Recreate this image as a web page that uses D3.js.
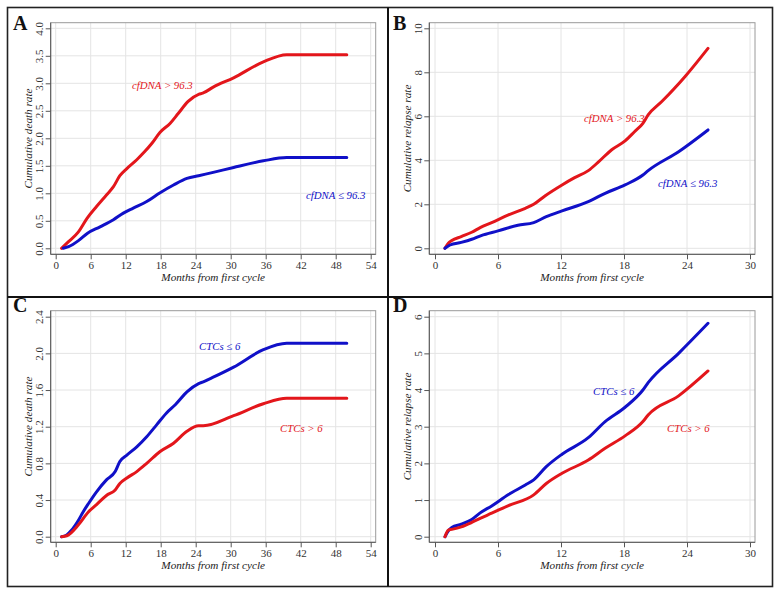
<!DOCTYPE html>
<html>
<head>
<meta charset="utf-8">
<script src="https://cdn.jsdelivr.net/npm/d3@7"></script>
<style>
  html, body { margin: 0; padding: 0; background: #fff; }
  svg { display: block; }
  text { font-family: "Liberation Serif", "DejaVu Serif", serif; }
</style>
</head>
<body>
<svg id="chart" width="775" height="593"></svg>
<script>
// ---------- DATA ----------
// Panel A: cumulative death rate by cfDNA
const aMonthsHigh = [1.0, 2.2, 3.9, 5.4, 7.0, 8.7, 9.9, 11.0, 12.2, 13.9, 15.1, 16.5, 17.9, 19.6, 21.0, 22.7, 24.5, 25.2, 27.0, 30.5, 35.6, 39.6, 49.9];
const aHigh       = [0.0, 0.12, 0.30, 0.55, 0.76, 0.97, 1.12, 1.32, 1.45, 1.61, 1.74, 1.91, 2.11, 2.27, 2.45, 2.67, 2.80, 2.82, 2.93, 3.10, 3.39, 3.52, 3.52];
const aMonthsLow  = [1.3, 2.2, 3.9, 5.4, 7.6, 9.9, 11.6, 13.3, 15.6, 17.9, 20.2, 22.5, 24.5, 27.0, 30.5, 35.6, 39.6, 49.9];
const aLow        = [0.0, 0.03, 0.14, 0.27, 0.39, 0.52, 0.64, 0.73, 0.85, 1.01, 1.15, 1.27, 1.32, 1.38, 1.47, 1.59, 1.65, 1.65];

// Panel B: cumulative relapse rate by cfDNA
const bMonthsHigh = [0.95, 1.27, 1.6, 2.5, 3.5, 4.3, 5.4, 7.0, 8.6, 9.4, 10.5, 12.1, 13.3, 14.6, 15.6, 16.8, 18.1, 19.0, 19.8, 20.3, 21.6, 23.8, 26.0];
const bHigh       = [0.0, 0.23, 0.35, 0.53, 0.73, 0.94, 1.17, 1.52, 1.82, 2.0, 2.39, 2.88, 3.21, 3.53, 3.94, 4.47, 4.88, 5.30, 5.68, 6.06, 6.67, 7.80, 9.09];
const bMonthsLow  = [0.95, 1.43, 2.5, 3.5, 4.4, 6.0, 7.9, 9.4, 10.6, 12.1, 14.6, 16.2, 18.1, 19.8, 20.3, 23.2, 26.0];
const bLow        = [0.0, 0.15, 0.27, 0.41, 0.58, 0.79, 1.05, 1.17, 1.44, 1.70, 2.12, 2.50, 2.88, 3.33, 3.53, 4.39, 5.38];

// Panel C: cumulative death rate by CTCs
const cMonthsLow  = [1.0, 1.9, 2.7, 3.9, 4.7, 5.6, 7.0, 8.7, 10.2, 11.0, 12.2, 13.9, 15.6, 17.3, 19.0, 20.5, 22.5, 24.5, 25.3, 27.0, 30.5, 35.6, 39.6, 49.9];
const cLow        = [0.0, 0.02, 0.07, 0.18, 0.27, 0.36, 0.49, 0.62, 0.71, 0.82, 0.89, 0.98, 1.09, 1.22, 1.35, 1.44, 1.58, 1.67, 1.69, 1.74, 1.85, 2.04, 2.11, 2.11];
const cMonthsHigh = [1.0, 1.9, 3.9, 5.6, 7.0, 8.7, 10.2, 11.0, 12.2, 13.9, 15.6, 17.9, 20.2, 22.5, 24.5, 25.3, 30.5, 35.6, 39.6, 49.9];
const cHigh       = [0.0, 0.01, 0.13, 0.27, 0.35, 0.45, 0.51, 0.58, 0.64, 0.71, 0.80, 0.93, 1.02, 1.15, 1.21, 1.21, 1.32, 1.45, 1.51, 1.51];

// Panel D: cumulative relapse rate by CTCs
const dMonthsLow  = [0.95, 1.27, 1.6, 2.5, 3.5, 4.3, 5.4, 7.0, 8.6, 9.4, 10.6, 12.1, 14.6, 16.2, 18.1, 19.8, 20.3, 23.2, 26.0];
const dLow        = [0.0, 0.16, 0.25, 0.34, 0.47, 0.65, 0.84, 1.15, 1.41, 1.55, 1.91, 2.25, 2.70, 3.14, 3.53, 4.0, 4.2, 5.0, 5.82];
const dMonthsHigh = [0.95, 1.27, 1.6, 2.5, 3.5, 4.3, 5.4, 7.0, 9.4, 10.6, 12.1, 14.6, 16.2, 18.1, 19.8, 20.3, 23.2, 26.0];
const dHigh       = [0.0, 0.18, 0.20, 0.27, 0.39, 0.50, 0.64, 0.85, 1.14, 1.45, 1.73, 2.09, 2.41, 2.75, 3.14, 3.32, 3.84, 4.52];

// Tick labels
const xTicksLong  = [0, 6, 12, 18, 24, 30, 36, 42, 48, 54];
const xTicksShort = [0, 6, 12, 18, 24, 30];
const yTicksA = [0, 0.5, 1, 1.5, 2, 2.5, 3, 3.5, 4];
const yTicksB = [0, 2, 4, 6, 8, 10];
const yTicksC = [0, 0.4, 0.8, 1.2, 1.6, 2.0, 2.4];
const yTicksD = [0, 1, 2, 3, 4, 5, 6];

const xTitle = "Months from first cycle";
const deathTitle = "Cumulative death rate";
const relapseTitle = "Cumulative relapse rate";

// ---------- STYLE ----------
const RED = "#e3161b";
const BLUE = "#1010c8";

const svg = d3.select("#chart");

// outer frame + dividers
svg.append("rect").attr("x", 7.5).attr("y", 7.5).attr("width", 765).attr("height", 579)
  .attr("fill", "none").attr("stroke", "#222").attr("stroke-width", 1.6);
svg.append("line").attr("x1", 388).attr("x2", 388).attr("y1", 7.5).attr("y2", 586.5)
  .attr("stroke", "#111").attr("stroke-width", 2);
svg.append("line").attr("x1", 7.5).attr("x2", 772.5).attr("y1", 297).attr("y2", 297)
  .attr("stroke", "#111").attr("stroke-width", 2);

const zip = (xs, ys) => xs.map((x, i) => ({ x: x, y: ys[i] }));

const panels = [
  { letter: "A", lx: 13, ly: 30, frame: [50.7, 22.7, 375.7, 254.3], xr: [55.7, 370.7], xd: [0, 54], xt: xTicksLong,
    yr: [248.3, 28.3], yd: [0, 4], yt: yTicksA, yfmt: d3.format(".1f"), ytitle: deathTitle, ytx: 28,
    series: [ { d: zip(aMonthsHigh, aHigh), c: RED }, { d: zip(aMonthsLow, aLow), c: BLUE } ],
    labels: [ { t: "cfDNA > 96.3", x: 132, y: 89, c: RED }, { t: "cfDNA ≤ 96.3", x: 306, y: 199, c: BLUE } ] },
  { letter: "B", lx: 393, ly: 30, frame: [429.3, 22.7, 755, 254.3], xr: [435, 750], xd: [0, 30], xt: xTicksShort,
    yr: [248.3, 28.3], yd: [0, 10], yt: yTicksB, yfmt: d3.format("d"), ytitle: relapseTitle, ytx: 407,
    series: [ { d: zip(bMonthsHigh, bHigh), c: RED }, { d: zip(bMonthsLow, bLow), c: BLUE } ],
    labels: [ { t: "cfDNA > 96.3", x: 584, y: 122, c: RED }, { t: "cfDNA ≤ 96.3", x: 658, y: 187, c: BLUE } ] },
  { letter: "C", lx: 13, ly: 312, frame: [50.7, 310.7, 375.7, 542.3], xr: [55.7, 370.7], xd: [0, 54], xt: xTicksLong,
    yr: [536.7, 316.7], yd: [0, 2.4], yt: yTicksC, yfmt: d3.format(".1f"), ytitle: deathTitle, ytx: 28,
    series: [ { d: zip(cMonthsLow, cLow), c: BLUE }, { d: zip(cMonthsHigh, cHigh), c: RED } ],
    labels: [ { t: "CTCs ≤ 6", x: 199, y: 350, c: BLUE }, { t: "CTCs > 6", x: 280, y: 432, c: RED } ] },
  { letter: "D", lx: 393, ly: 312, frame: [429.3, 310.7, 755, 542.3], xr: [435, 750], xd: [0, 30], xt: xTicksShort,
    yr: [536.7, 316.7], yd: [0, 6], yt: yTicksD, yfmt: d3.format("d"), ytitle: relapseTitle, ytx: 407,
    series: [ { d: zip(dMonthsLow, dLow), c: BLUE }, { d: zip(dMonthsHigh, dHigh), c: RED } ],
    labels: [ { t: "CTCs ≤ 6", x: 593, y: 395, c: BLUE }, { t: "CTCs > 6", x: 667, y: 432, c: RED } ] }
];

panels.forEach(p => {
  const g = svg.append("g");
  const [fx0, fy0, fx1, fy1] = p.frame;
  const x = d3.scaleLinear().domain(p.xd).range(p.xr);
  const y = d3.scaleLinear().domain(p.yd).range(p.yr);

  // grid
  g.append("g").selectAll("line").data(p.xt).join("line")
    .attr("x1", d => x(d)).attr("x2", d => x(d)).attr("y1", fy0).attr("y2", fy1)
    .attr("stroke", "#e4e4e4").attr("stroke-width", 1);
  g.append("g").selectAll("line").data(p.yt).join("line")
    .attr("x1", fx0).attr("x2", fx1).attr("y1", d => y(d)).attr("y2", d => y(d))
    .attr("stroke", "#e4e4e4").attr("stroke-width", 1);

  // frame
  g.append("rect").attr("x", fx0).attr("y", fy0).attr("width", fx1 - fx0).attr("height", fy1 - fy0)
    .attr("fill", "none").attr("stroke", "#9a9a9a").attr("stroke-width", 1);

  // x axis
  const xAxis = g.append("g").attr("transform", `translate(0,${fy1})`)
    .call(d3.axisBottom(x).tickValues(p.xt).tickSize(5).tickSizeOuter(0).tickPadding(2));
  xAxis.select(".domain").attr("d", `M${fx0},0H${fx1}`).attr("stroke", "#555");
  xAxis.selectAll(".tick line").attr("stroke", "#555");
  xAxis.selectAll("text").attr("font-size", 11).attr("fill", "#333")
    .style("font-family", "'Liberation Serif', serif");

  // y axis
  const yAxis = g.append("g").attr("transform", `translate(${fx0},0)`)
    .call(d3.axisLeft(y).tickValues(p.yt).tickFormat(p.yfmt).tickSize(5).tickSizeOuter(0));
  yAxis.select(".domain").attr("d", `M0,${fy0}V${fy1}`).attr("stroke", "#555");
  yAxis.selectAll(".tick line").attr("stroke", "#555");
  yAxis.selectAll("text")
    .attr("font-size", 11).attr("fill", "#333")
    .style("font-family", "'Liberation Serif', serif")
    .attr("x", null).attr("dy", null)
    .attr("text-anchor", "middle")
    .attr("transform", "translate(-7.5,0) rotate(-90)");

  // titles
  g.append("text").attr("x", (fx0 + fx1) / 2).attr("y", fy1 + 26.5)
    .attr("text-anchor", "middle").attr("font-size", 11.2).attr("font-style", "italic").attr("fill", "#222")
    .text(xTitle);
  g.append("text").attr("transform", `translate(${p.ytx},${(fy0 + fy1) / 2}) rotate(-90)`)
    .attr("text-anchor", "middle").attr("dy", "0.35em").attr("font-size", 11.2).attr("font-style", "italic").attr("fill", "#222")
    .text(p.ytitle);

  // lines
  const line = d3.line().x(d => x(d.x)).y(d => y(d.y)).curve(d3.curveMonotoneX);
  p.series.forEach(s => {
    g.append("path").datum(s.d).attr("d", line)
      .attr("fill", "none").attr("stroke", s.c).attr("stroke-width", 3)
      .attr("stroke-linejoin", "round").attr("stroke-linecap", "round");
  });

  // annotations
  p.labels.forEach(l => {
    g.append("text").attr("x", l.x).attr("y", l.y).attr("font-size", 10.8).attr("font-style", "italic")
      .attr("fill", l.c).text(l.t);
  });

  // panel letter
  g.append("text").attr("x", p.lx).attr("y", p.ly).attr("font-size", 20).attr("font-weight", "bold")
    .attr("fill", "#111").text(p.letter);
});
</script>
</body>
</html>
